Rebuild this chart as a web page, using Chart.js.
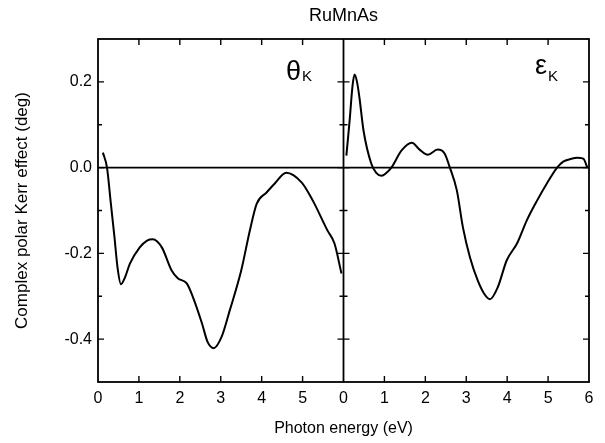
<!DOCTYPE html>
<html>
<head>
<meta charset="utf-8">
<script src="https://cdn.jsdelivr.net/npm/chart.js@4.4.1/dist/chart.umd.min.js"></script>
<style>
  html, body { margin: 0; padding: 0; background: #fff; }
</style>
</head>
<body>
<canvas id="kerr" width="605" height="443"></canvas>
<script>
  // Left panel: Kerr rotation theta_K (deg) against photon energy (eV)
  const thetaEnergy = [0.12, 0.22, 0.31, 0.40, 0.48, 0.56, 0.66, 0.78, 1.02, 1.2,
                       1.34, 1.56, 1.8, 1.95, 2.17, 2.32, 2.54, 2.68, 2.83, 3.02,
                       3.22, 3.5, 3.71, 3.88, 4.12, 4.32, 4.6, 4.98, 5.25, 5.61,
                       5.78, 5.95];
  const thetaKerr   = [0.035, 0.0, -0.08, -0.16, -0.235, -0.272, -0.256, -0.224, -0.186, -0.17,
                       -0.167, -0.186, -0.24, -0.258, -0.27, -0.302, -0.363, -0.407, -0.421, -0.395,
                       -0.333, -0.24, -0.147, -0.084, -0.058, -0.037, -0.012, -0.035, -0.077, -0.147,
                       -0.177, -0.247];

  // Right panel: Kerr ellipticity epsilon_K (deg) against photon energy (eV)
  const epsEnergy = [0.07, 0.15, 0.22, 0.27, 0.33, 0.39, 0.49, 0.68, 0.8, 0.93,
                     1.05, 1.17, 1.42, 1.67, 1.86, 2.06, 2.3, 2.47, 2.6, 2.77,
                     2.92, 3.09, 3.28, 3.45, 3.58, 3.77, 3.99, 4.24, 4.48, 4.73,
                     4.97, 5.22, 5.37, 5.55, 5.71, 5.86, 5.96];
  const epsKerr   = [0.028, 0.11, 0.19, 0.217, 0.2, 0.163, 0.086, 0.009, -0.012, -0.019,
                     -0.012, 0.0, 0.04, 0.058, 0.042, 0.03, 0.042, 0.033, 0.0, -0.053,
                     -0.14, -0.209, -0.263, -0.296, -0.307, -0.279, -0.216, -0.177, -0.123, -0.077,
                     -0.037, 0.0, 0.014, 0.02, 0.023, 0.021, 0.0];

  // both panels share one x scale: 0..6 eV on the left, 6..12 holds the right panel
  const panelWidth = 6;
  const xTicks = [0, 1, 2, 3, 4, 5, 6, 7, 8, 9, 10, 11, 12];
  const yTicks = [-0.5, -0.4, -0.3, -0.2, -0.1, 0.0, 0.1, 0.2, 0.3];

  const FONT = "'Liberation Sans', Arial, sans-serif";

  // frame, divider, zero line, inward ticks and the panel labels
  const framePlugin = {
    id: 'frame',
    afterDatasetsDraw(chart) {
      const { ctx, chartArea: a, scales: { x, y } } = chart;
      ctx.save();
      ctx.strokeStyle = '#000';
      ctx.lineWidth = 1.8;
      ctx.strokeRect(a.left, a.top, a.right - a.left, a.bottom - a.top);

      const xDiv = x.getPixelForValue(panelWidth);
      ctx.beginPath();
      ctx.moveTo(xDiv, a.top); ctx.lineTo(xDiv, a.bottom);
      const y0 = y.getPixelForValue(0);
      ctx.moveTo(a.left, y0); ctx.lineTo(a.right, y0);
      ctx.stroke();

      ctx.lineWidth = 1.4;
      ctx.beginPath();
      xTicks.forEach(v => {
        if (v === 0 || v === panelWidth || v === 2 * panelWidth) return;
        const px = x.getPixelForValue(v);
        ctx.moveTo(px, a.bottom); ctx.lineTo(px, a.bottom - 6);
        ctx.moveTo(px, a.top); ctx.lineTo(px, a.top + 6);
      });
      yTicks.forEach(v => {
        if (v === yTicks[0] || v === yTicks[yTicks.length - 1]) return;
        const py = y.getPixelForValue(v);
        const len = Math.round(v * 10) % 2 === 0 ? 6 : 4;
        ctx.moveTo(a.left, py); ctx.lineTo(a.left + len, py);
        ctx.moveTo(a.right, py); ctx.lineTo(a.right - len, py);
        ctx.moveTo(xDiv - len, py); ctx.lineTo(xDiv + len, py);
      });
      ctx.stroke();

      ctx.fillStyle = '#000';
      ctx.textBaseline = 'alphabetic';
      ctx.textAlign = 'center';
      ctx.font = '18px ' + FONT;
      ctx.fillText('RuMnAs', (a.left + a.right) / 2, 21);

      ctx.textAlign = 'left';
      ctx.font = '27px ' + FONT;
      ctx.fillText('θ', 286, 80);
      ctx.fillText('ε', 535, 74);
      ctx.font = '15px ' + FONT;
      ctx.fillText('K', 302, 81);
      ctx.fillText('K', 548, 81);
      ctx.restore();
    }
  };

  const lineStyle = {
    borderColor: '#000',
    borderWidth: 2,
    pointRadius: 0,
    fill: false,
    cubicInterpolationMode: 'monotone'
  };

  new Chart(document.getElementById('kerr'), {
    type: 'line',
    data: {
      datasets: [
        Object.assign({ label: 'θK', data: thetaEnergy.map((e, i) => ({ x: e, y: thetaKerr[i] })) }, lineStyle),
        Object.assign({ label: 'εK', data: epsEnergy.map((e, i) => ({ x: e + panelWidth, y: epsKerr[i] })) }, lineStyle)
      ]
    },
    options: {
      responsive: false,
      animation: false,
      layout: { padding: { top: 39, right: 16, left: 0, bottom: 0 } },
      plugins: { legend: { display: false }, tooltip: { enabled: false } },
      scales: {
        x: {
          type: 'linear',
          min: 0, max: 2 * panelWidth,
          afterFit: s => { s.height = 61; },
          afterBuildTicks: s => { s.ticks = xTicks.map(v => ({ value: v })); },
          grid: { display: false, drawTicks: false },
          border: { display: false },
          ticks: {
            autoSkip: false, maxRotation: 0, padding: 7, color: '#000',
            font: { family: FONT, size: 16 },
            callback: v => v < panelWidth ? v : v - panelWidth
          },
          title: {
            display: true, text: 'Photon energy (eV)', color: '#000',
            font: { family: FONT, size: 16 }, padding: { top: 0, bottom: 5 }
          }
        },
        y: {
          min: yTicks[0], max: yTicks[yTicks.length - 1],
          afterFit: s => { s.width = 98; },
          afterBuildTicks: s => { s.ticks = yTicks.map(v => ({ value: v })); },
          grid: { display: false, drawTicks: false },
          border: { display: false },
          ticks: {
            autoSkip: false, padding: 6, color: '#000',
            font: { family: FONT, size: 16 },
            callback: v => {
              const k = Math.round(v * 10);
              return k % 2 === 0 ? (k / 10).toFixed(1) : '';
            }
          },
          title: {
            display: true, text: 'Complex polar Kerr effect (deg)', color: '#000',
            font: { family: FONT, size: 17 }, padding: { top: 12, bottom: 0 }
          }
        }
      }
    },
    plugins: [framePlugin]
  });
</script>
</body>
</html>
